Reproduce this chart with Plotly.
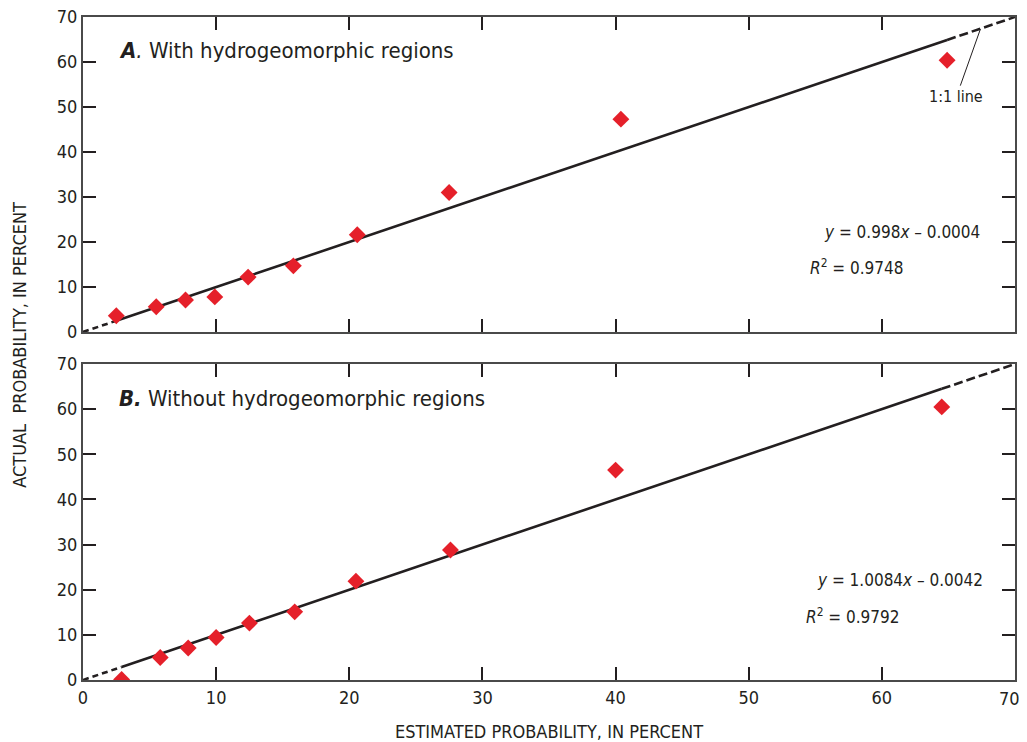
import plotly.graph_objects as go

# Panel A: with hydrogeomorphic regions
est_a = [2.5, 5.5, 7.7, 9.9, 12.4, 15.8, 20.6, 27.5, 40.4, 64.9]
act_a = [3.6, 5.6, 7.1, 7.8, 12.2, 14.7, 21.6, 31.0, 47.3, 60.4]
# Panel B: without hydrogeomorphic regions
est_b = [2.9, 5.8, 7.9, 10.0, 12.5, 15.9, 20.5, 27.6, 40.0, 64.5]
act_b = [0.1, 5.0, 7.1, 9.4, 12.6, 15.1, 21.9, 28.8, 46.5, 60.5]

ticks = [0, 10, 20, 30, 40, 50, 60, 70]
tick_labels = ["0", "10", "20", "30", "40", "50", "60", "70"]
axis_max = 70

FONT = "DejaVu Sans Condensed, Roboto, sans-serif"
INK = "#231f20"
FRAME = "#4a4a4a"
RED = "#e5202a"

fig = go.Figure()

def add_panel(est, act, xa, ya):
    lo, hi = min(est), max(est)
    fig.add_trace(go.Scatter(x=[0, lo], y=[0, lo], mode="lines", xaxis=xa, yaxis=ya,
                             line=dict(color=INK, width=2.6, dash="6px,4px"), showlegend=False, hoverinfo="skip"))
    fig.add_trace(go.Scatter(x=[lo, hi], y=[lo, hi], mode="lines", xaxis=xa, yaxis=ya,
                             line=dict(color=INK, width=2.6), showlegend=False, hoverinfo="skip"))
    fig.add_trace(go.Scatter(x=[hi, axis_max], y=[hi, axis_max], mode="lines", xaxis=xa, yaxis=ya,
                             line=dict(color=INK, width=2.6, dash="9px,4px"), showlegend=False, hoverinfo="skip"))
    fig.add_trace(go.Scatter(x=est, y=act, mode="markers", xaxis=xa, yaxis=ya,
                             marker=dict(symbol="diamond", size=13, color=RED, line=dict(width=0)),
                             showlegend=False))

add_panel(est_a, act_a, "x", "y")
add_panel(est_b, act_b, "x2", "y2")

tickfont = dict(family=FONT, size=18, color=INK)
axcommon = dict(range=[0, axis_max], tickvals=ticks, ticktext=tick_labels, ticks="inside", ticklen=13,
                tickwidth=1.5, tickcolor=INK, showline=True, linecolor=FRAME, linewidth=2, mirror="ticks",
                showgrid=False, zeroline=False, automargin=False, ticklabeloverflow="allow",
                tickfont=tickfont)

# the page body has an 8px margin; size the figure to land on the reference pixels
fig.update_layout(
    width=1019, height=734,
    margin=dict(l=75, r=12, t=9, b=62),
    paper_bgcolor="white", plot_bgcolor="white",
    font=dict(family=FONT, color=INK),
    xaxis=dict(axcommon, domain=[0, 1], anchor="y", showticklabels=False),
    yaxis=dict(axcommon, domain=[0.5249, 1.0], anchor="x"),
    xaxis2=dict(axcommon, domain=[0, 1], anchor="y2",
                ticktext=tick_labels[:-1] + [""],
                title=dict(text="ESTIMATED PROBABILITY, IN PERCENT", font=dict(family=FONT, size=18, color=INK), standoff=24)),
    yaxis2=dict(axcommon, domain=[0, 0.4766], anchor="x2"),
)

ann = []
# last x tick label, nudged left so it stays inside the page
ann.append(dict(text=tick_labels[-1], xref="x2", x=ticks[-1], yref="y2 domain", y=0,
                xanchor="center", yanchor="middle", xshift=-6, yshift=-18, showarrow=False,
                font=tickfont))
ann.append(dict(text="ACTUAL  PROBABILITY, IN PERCENT", xref="paper", yref="paper", x=-0.068, y=0.505,
                textangle=-90, showarrow=False, font=dict(family=FONT, size=18, color=INK),
                xanchor="center", yanchor="middle"))
ann.append(dict(text="<b><i>A</i></b><i>.</i> With hydrogeomorphic regions", xref="x domain", yref="y domain",
                x=0.0365, y=0.895, xanchor="left", yanchor="middle", showarrow=False,
                font=dict(family=FONT, size=22, color=INK)))
ann.append(dict(text="<b><i>B.</i></b> Without hydrogeomorphic regions", xref="x2 domain", yref="y2 domain",
                x=0.0365, y=0.892, xanchor="left", yanchor="middle", showarrow=False,
                font=dict(family=FONT, size=22, color=INK)))
eqfont = dict(family=FONT, size=17, color=INK)
ann.append(dict(text="<i>y</i> = 0.998<i>x</i> – 0.0004", xref="x domain", yref="y domain",
                x=0.793, y=0.317, xanchor="left", yanchor="middle", showarrow=False, font=eqfont))
ann.append(dict(text="<i>R</i><sup>2</sup> = 0.9748", xref="x domain", yref="y domain",
                x=0.778, y=0.206, xanchor="left", yanchor="middle", showarrow=False, font=eqfont))
ann.append(dict(text="<i>y</i> = 1.0084<i>x</i> – 0.0042", xref="x2 domain", yref="y2 domain",
                x=0.785, y=0.316, xanchor="left", yanchor="middle", showarrow=False, font=eqfont))
ann.append(dict(text="<i>R</i><sup>2</sup> = 0.9792", xref="x2 domain", yref="y2 domain",
                x=0.774, y=0.203, xanchor="left", yanchor="middle", showarrow=False, font=eqfont))
ann.append(dict(text="1:1 line", x=67.4, y=67.3, xref="x", yref="y", ax=65.6, ay=52.3, axref="x", ayref="y",
                showarrow=True, arrowhead=0, arrowwidth=1, arrowcolor=INK,
                font=dict(family=FONT, size=16, color=INK)))
fig.update_layout(annotations=ann)

fig.write_html("out.html")
